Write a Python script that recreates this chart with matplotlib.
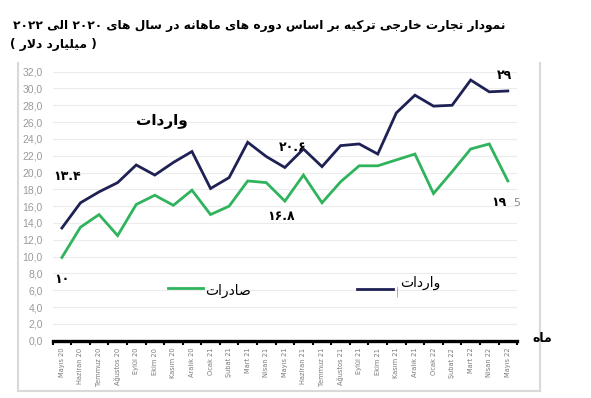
import re
import matplotlib
matplotlib.use("Agg")
import matplotlib.pyplot as plt
from matplotlib.lines import Line2D

# ---- data (billion USD) ----
months = ["Mayıs 20", "Haziran 20", "Temmuz 20", "Ağustos 20", "Eylül 20",
          "Ekim 20", "Kasım 20", "Aralık 20", "Ocak 21", "Şubat 21",
          "Mart 21", "Nisan 21", "Mayıs 21", "Haziran 21", "Temmuz 21",
          "Ağustos 21", "Eylül 21", "Ekim 21", "Kasım 21", "Aralık 21",
          "Ocak 22", "Şubat 22", "Mart 22", "Nisan 22", "Mayıs 22"]
imports = [13.4, 16.4, 17.7, 18.8, 20.9, 19.7, 21.2, 22.5, 18.1, 19.4,
           23.6, 21.9, 20.6, 22.8, 20.7, 23.2, 23.4, 22.2, 27.1, 29.2,
           27.9, 28.0, 31.0, 29.6, 29.7]
exports = [9.9, 13.5, 15.0, 12.5, 16.2, 17.3, 16.1, 17.9, 15.0, 16.0,
           19.0, 18.8, 16.6, 19.7, 16.4, 18.9, 20.8, 20.8, 21.5, 22.2,
           17.5, 20.1, 22.8, 23.4, 19.0]
yticks = list(range(0, 33, 2))

NAVY = "#1f2154"
GREEN = "#2fb35c"

# ---- persian shaping by hand (no reshaper lib available) ----
# (isolated, final, initial, medial); two entries = doesn't join to the left
FORMS = {
    "ا": ("\uFE8D", "\uFE8E"),
    "ب": ("\uFE8F", "\uFE90", "\uFE91", "\uFE92"),
    "ت": ("\uFE95", "\uFE96", "\uFE97", "\uFE98"),
    "ج": ("\uFE9D", "\uFE9E", "\uFE9F", "\uFEA0"),
    "خ": ("\uFEA5", "\uFEA6", "\uFEA7", "\uFEA8"),
    "د": ("\uFEA9", "\uFEAA"),
    "ر": ("\uFEAD", "\uFEAE"),
    "س": ("\uFEB1", "\uFEB2", "\uFEB3", "\uFEB4"),
    "ص": ("\uFEB9", "\uFEBA", "\uFEBB", "\uFEBC"),
    "ل": ("\uFEDD", "\uFEDE", "\uFEDF", "\uFEE0"),
    "م": ("\uFEE1", "\uFEE2", "\uFEE3", "\uFEE4"),
    "ن": ("\uFEE5", "\uFEE6", "\uFEE7", "\uFEE8"),
    "ه": ("\uFEE9", "\uFEEA", "\uFEEB", "\uFEEC"),
    "و": ("\uFEED", "\uFEEE"),
    "ی": ("\uFBFC", "\uFBFD", "\uFBFE", "\uFBFF"),
    "ک": ("\uFB8E", "\uFB8F", "\uFB90", "\uFB91"),
}


def fa(text):
    out = []
    i = 0
    while i < len(text):
        c = text[i]
        if c not in FORMS:
            out.append(c)
            i += 1
            continue
        prev = text[i - 1] if i > 0 else ""
        joins_prev = prev in FORMS and len(FORMS[prev]) == 4
        nxt = text[i + 1] if i + 1 < len(text) else ""
        if c == "ل" and nxt == "ا":
            out.append("\uFEFC" if joins_prev else "\uFEFB")
            i += 2
            continue
        joins_next = len(FORMS[c]) == 4 and nxt in FORMS
        idx = {(False, False): 0, (True, False): 1,
               (False, True): 2, (True, True): 3}[(joins_prev, joins_next)]
        out.append(FORMS[c][idx])
        i += 1
    vis = "".join(out)[::-1]
    # numbers keep left-to-right order, brackets get mirrored
    vis = re.sub(r"[۰-۹0-9.]+", lambda m: m.group(0)[::-1], vis)
    vis = vis.translate(str.maketrans("()", ")("))
    return vis


plt.rcParams["font.family"] = ["DejaVu Sans"]

fig = plt.figure(figsize=(5.91, 3.98), dpi=100)
ax = fig.add_axes([0.089, 0.144, 0.786, 0.676])

x = list(range(len(months)))
ax.plot(x, imports, color=NAVY, lw=2.0, solid_joinstyle="miter")
ax.plot(x, exports, color=GREEN, lw=2.0, solid_joinstyle="miter")

ax.set_xlim(-0.5, len(months) - 0.5)
ax.set_ylim(0, 32)
ax.set_yticks(yticks)
ax.set_yticklabels([f"{v:.1f}".replace(".", ",") for v in yticks],
                   fontsize=7.5, color="#9a9a9a", family="Liberation Sans")
ax.set_xticks(x)
ax.set_xticklabels(months, rotation=90, fontsize=4.8, color="#7a7a7a", va="top")
ax.set_xticks([v - 0.5 for v in range(len(months) + 1)], minor=True)
ax.tick_params(axis="y", length=0, pad=7)
ax.tick_params(axis="x", which="major", length=0, pad=5)
ax.tick_params(axis="x", which="minor", length=3, width=1.5, color="black")
ax.grid(axis="y", color="#ececec", lw=0.8)
ax.set_axisbelow(True)
for s in ["left", "right", "top"]:
    ax.spines[s].set_visible(False)
ax.spines["bottom"].set_linewidth(2.4)
ax.spines["bottom"].set_color("black")

# data labels
bold = dict(fontweight="bold", color="black", ha="center", va="center")
ax.text(0.25, 19.5, "۱۳.۴", fontsize=9, **bold)
ax.text(0.0, 7.3, "۱۰", fontsize=9, **bold)
ax.text(12.4, 23.0, "۲۰.۶", fontsize=9, **bold)
ax.text(11.8, 14.8, "۱۶.۸", fontsize=9, **bold)
ax.text(23.8, 31.6, "۲۹", fontsize=9, **bold)
ax.text(23.5, 16.4, "۱۹", fontsize=9, **bold)
ax.text(24.5, 16.4, "5", fontsize=8, color="#8a8a8a", ha="center", va="center")
ax.text(5.4, 26.1, fa("واردات"), fontsize=11, **bold)

# hand-made legend inside the plot
fig.add_artist(Line2D([0.284, 0.343], [0.276, 0.276], color=GREEN, lw=2.0))
fig.text(0.385, 0.268, fa("صادرات"), fontsize=10, ha="center", va="center")
fig.add_artist(Line2D([0.604, 0.665], [0.274, 0.274], color=NAVY, lw=2.0))
fig.text(0.711, 0.288, fa("واردات"), fontsize=10, ha="center", va="center")
fig.text(0.672, 0.267, "|", fontsize=7, color="#9a9a9a", ha="center", va="center")

fig.text(0.918, 0.150, fa("ماه"), fontsize=9, fontweight="bold", ha="center", va="center")

# chart frame (excel style)
frame = dict(color="#d9d9d9", lw=1.5)
fig.add_artist(Line2D([0.031, 0.031], [0.018, 0.842], **frame))
fig.add_artist(Line2D([0.914, 0.914], [0.018, 0.842], **frame))
fig.add_artist(Line2D([0.031, 0.914], [0.018, 0.018], **frame))

# title, shrunk so it spans the same width as the original (x 10..505 px)
title = fig.text(0.855, 0.937,
                 fa("نمودار تجارت خارجی ترکیه بر اساس دوره های ماهانه در سال های ۲۰۲۰ الی ۲۰۲۲"),
                 fontsize=10, fontweight="bold", ha="right", va="center")
renderer = fig.canvas.get_renderer()
w = title.get_window_extent(renderer).width
title.set_fontsize(10 * 495 / w)
fig.text(0.017, 0.889, fa("( میلیارد دلار )"), fontsize=title.get_fontsize(),
         fontweight="bold", ha="left", va="center")

fig.savefig("out.png", dpi=100)
